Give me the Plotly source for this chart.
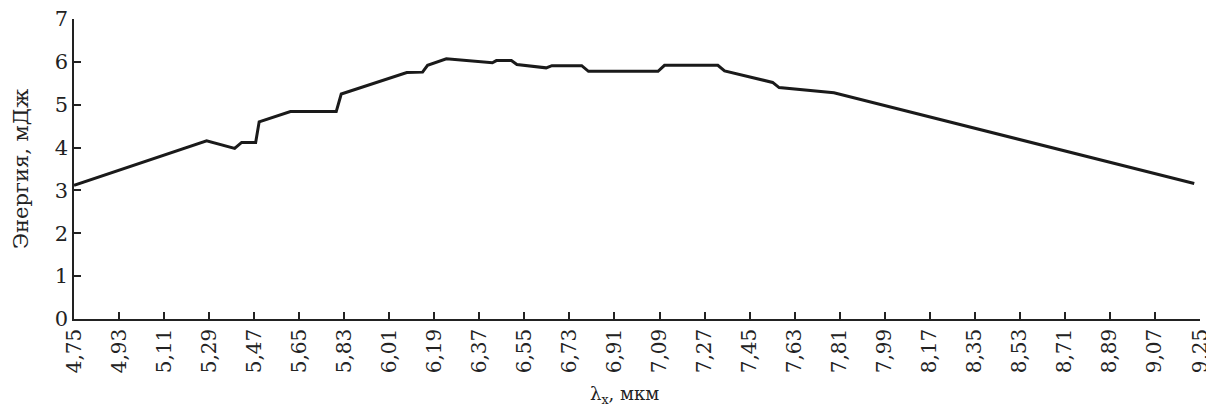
import plotly.graph_objects as go

wavelength = [4.75, 5.28, 5.392, 5.42, 5.476, 5.49, 5.615, 5.798, 5.818, 6.08, 6.143, 6.163,
              6.238, 6.422, 6.438, 6.498, 6.52, 6.637, 6.66, 6.779, 6.806, 7.084, 7.11,
              7.323, 7.35, 7.542, 7.568, 7.787, 9.227]
energy = [3.12, 4.16, 3.98, 4.12, 4.12, 4.60, 4.84, 4.84, 5.25, 5.75, 5.76, 5.92,
          6.07, 5.98, 6.03, 6.03, 5.94, 5.86, 5.91, 5.91, 5.78, 5.78, 5.92,
          5.92, 5.79, 5.52, 5.40, 5.28, 3.16]

x_ticks = [round(4.75 + 0.18 * i, 2) for i in range(26)]
y_ticks = [0, 1, 2, 3, 4, 5, 6, 7]

x_title = "λ<sub>x</sub>, мкм"
y_title = "Энергия, мДж"

font_family = "DejaVu Serif"

fig = go.Figure()
fig.add_trace(go.Scatter(x=wavelength, y=energy, mode="lines",
                         line=dict(color="#1a1a1a", width=3), showlegend=False))

fig.update_layout(
    width=1206, height=400,
    margin=dict(l=66, r=14, t=11, b=89),
    paper_bgcolor="white", plot_bgcolor="white",
    separators=", ",
    font=dict(family=font_family, color="#222", size=18),
)
fig.update_xaxes(
    range=[4.75, 9.25], tickvals=x_ticks, tickformat=".2f", tickangle=-90,
    ticks="inside", ticklen=7, tickcolor="#222", tickwidth=1.5,
    showline=True, linecolor="#222", linewidth=1.5, showgrid=False, zeroline=False,
    tickfont=dict(family=font_family, size=20), automargin=False,
    ticklabeloverflow="allow",
)
fig.update_yaxes(
    range=[0, 7], tickvals=y_ticks,
    ticks="inside", ticklen=7, tickcolor="#222", tickwidth=1.5,
    showline=True, linecolor="#222", linewidth=1.5, showgrid=False, zeroline=False,
    tickfont=dict(family=font_family, size=21), automargin=False,
    ticklabeloverflow="allow",
)
fig.add_annotation(text=x_title, xref="paper", yref="paper", x=0.489, y=0,
                   xanchor="center", yanchor="middle", yshift=-76, showarrow=False,
                   font=dict(family=font_family, size=18, color="#222"))
fig.add_annotation(text=y_title, xref="paper", yref="paper", x=0, y=0.5,
                   xanchor="center", yanchor="middle", xshift=-53, textangle=-90,
                   showarrow=False, font=dict(family=font_family, size=21, color="#222"))

fig.write_html("out.html")
